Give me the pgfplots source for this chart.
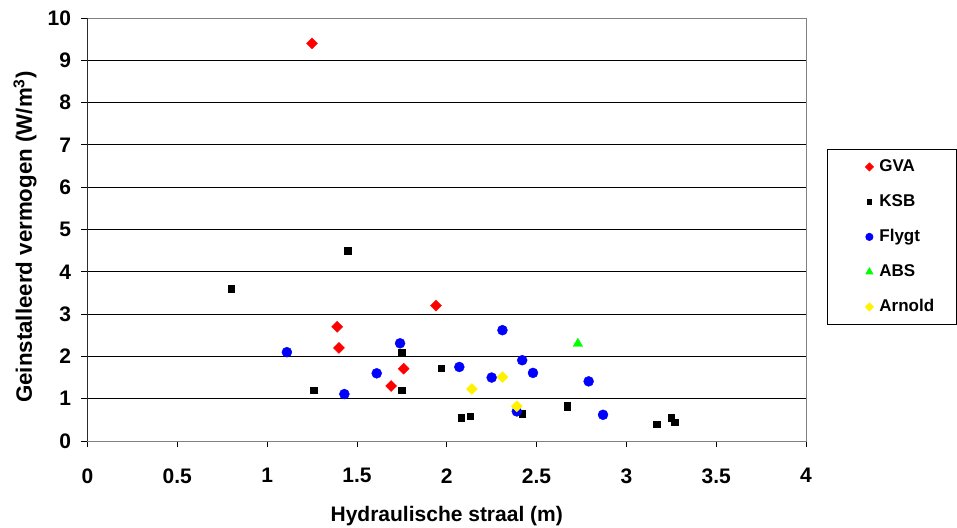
\documentclass[border=0pt]{standalone}
\usepackage{pgfplots}
\pgfplotsset{compat=1.18}
\usepackage{fontspec}
\setmainfont{Liberation Sans}
\begin{document}
\begin{tikzpicture}
\begin{axis}[
  scale only axis,
  width=718.5pt, height=423pt,
  xmin=0, xmax=4, ymin=0, ymax=10,
  xtick={0,0.5,...,4}, ytick={0,1,...,10},
  xticklabels={\textbf{0},\textbf{0.5},\textbf{1},\textbf{1.5},\textbf{2},\textbf{2.5},\textbf{3},\textbf{3.5},\textbf{4}},
  yticklabels={\textbf{0},\textbf{1},\textbf{2},\textbf{3},\textbf{4},\textbf{5},\textbf{6},\textbf{7},\textbf{8},\textbf{9},\textbf{10}},
  ymajorgrids, grid style={black, line width=0.8pt},
  axis line style={gray, line width=0.8pt},
  tick align=outside, major tick length=6pt,
  xtick pos=bottom, ytick pos=left,
  tick style={black, line width=0.8pt},
  /pgf/number format/assume math mode=true,
  tick label style={font=\fontsize{21}{25}\selectfont\bfseries},
  xticklabel style={yshift=-18pt},
  yticklabel style={xshift=-7pt},
  label style={font=\fontsize{21}{25}\selectfont\bfseries},
  xlabel={Hydraulische straal (m)},
  xlabel style={at={(axis description cs:0.5,0)}, anchor=center, yshift=-75pt},
  ylabel={Geinstalleerd vermogen (W/m\textsuperscript{3})},
  ylabel style={at={(axis description cs:-0.087,0.482)}, anchor=center, font=\fontsize{22.3}{26}\selectfont\bfseries},
  legend cell align=left,
  legend image code/.code={\path[draw=none, fill=none] (0pt,-2pt) rectangle (24pt,2pt);
     \draw[#1, only marks, /tikz/every mark/.append style={scale=0.72}] plot coordinates {(20pt,0pt)};},
  legend style={at={(1.0292,0.6903)}, anchor=north west,
     draw=black, line width=0.8pt,
     font=\fontsize{17}{20}\selectfont\bfseries,
     inner xsep=22pt, inner ysep=7.5pt,
     row sep=15pt, column sep=6pt,
     nodes={inner xsep=0pt, inner ysep=2pt, text height=12.5pt, text depth=3.5pt}},
]
\draw[black, line width=0.8pt] (rel axis cs:0,0) -- (rel axis cs:0,1);
\addplot[only marks, mark=square*, mark size=3.9pt, color=red, mark options={rotate=45, fill=red, draw=red}]
coordinates {(1.25,9.4) (1.94,3.2) (1.39,2.7) (1.40,2.2) (1.76,1.71) (1.69,1.3)};
\addlegendentry{GVA}
\addplot[only marks, mark=square*, mark size=3.3pt, color=black]
coordinates {(0.80,3.6) (1.45,4.5) (1.26,1.2) (1.75,2.1) (1.75,1.2) (1.97,1.72) (2.08,0.55) (2.13,0.59) (2.42,0.65) (2.67,0.85) (2.67,0.80) (3.17,0.40) (3.25,0.55) (3.27,0.44)};
\addlegendentry{KSB}
\addplot[only marks, mark=*, mark size=5pt, color=blue, mark options={fill=blue, draw=blue}]
coordinates {(1.11,2.1) (1.74,2.31) (2.07,1.75) (1.61,1.6) (2.25,1.5) (1.43,1.11) (2.31,2.62) (2.42,1.91) (2.48,1.61) (2.79,1.41) (2.39,0.7) (2.87,0.62)};
\addlegendentry{Flygt}
\addplot[only marks, mark=triangle*, mark size=5.5pt, color=green, mark options={fill=green, draw=green}]
coordinates {(2.73,2.3)};
\addlegendentry{ABS}
\addplot[only marks, mark=square*, mark size=3.9pt, color=yellow, mark options={rotate=45, fill=yellow, draw=yellow}]
coordinates {(2.14,1.23) (2.31,1.51) (2.39,0.82)};
\addlegendentry{Arnold}
\end{axis}
\pgfresetboundingbox
\path[use as bounding box] (-87.5pt,-86pt) rectangle (869.5pt,441pt);
\end{tikzpicture}
\end{document}
